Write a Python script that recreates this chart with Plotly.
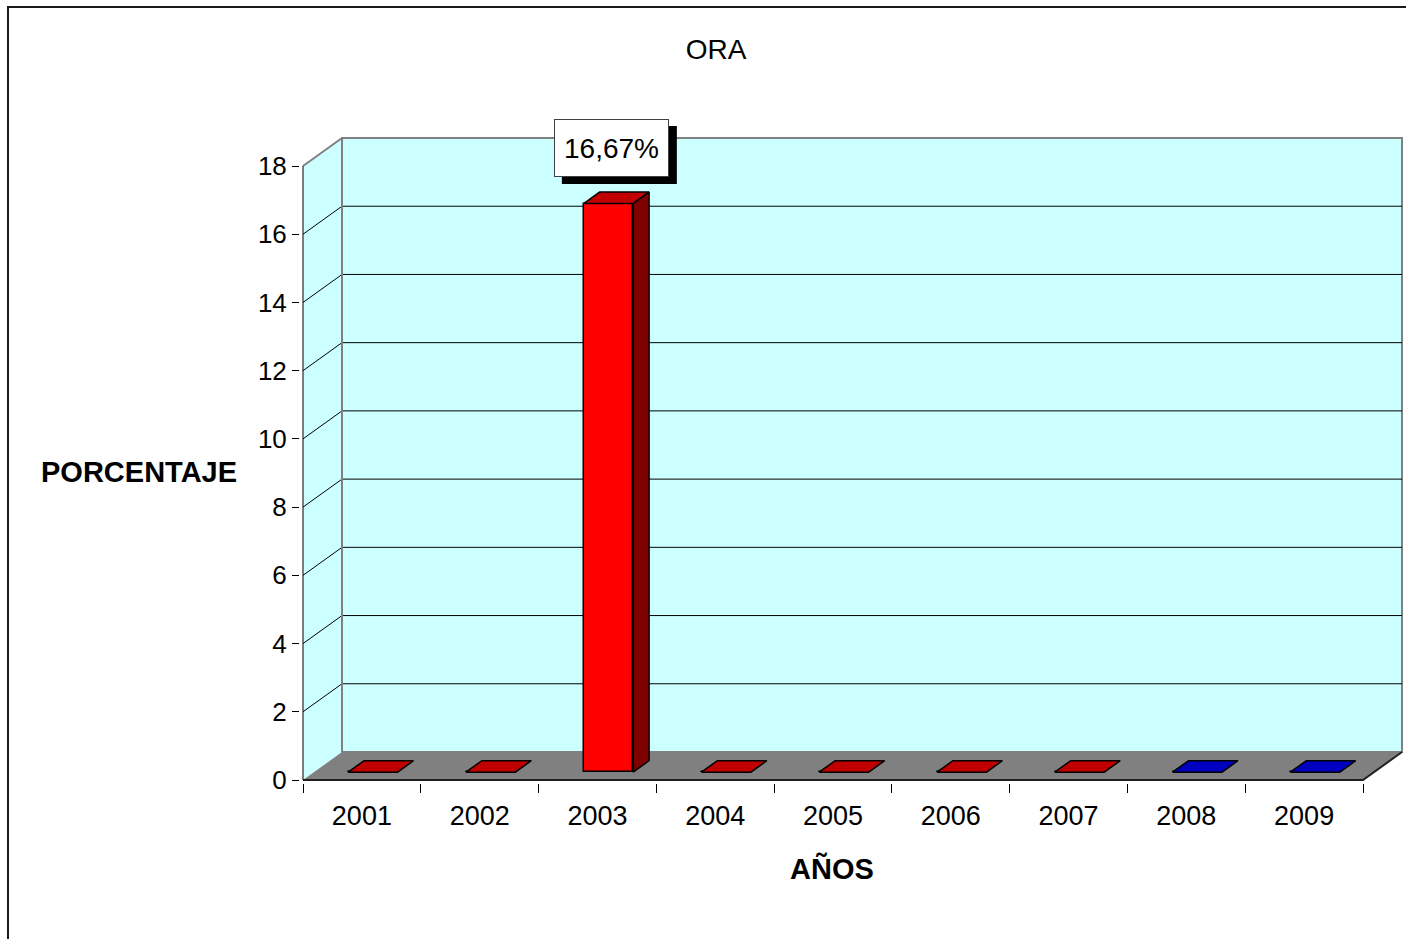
import plotly.graph_objects as go

# ---------------- data ----------------
years = ["2001", "2002", "2003", "2004", "2005", "2006", "2007", "2008", "2009"]
values = [0, 0, 16.67, 0, 0, 0, 0, 0, 0]
value_labels = ["", "", "16,67%", "", "", "", "", "", ""]
front_colors = ["#FF0000"] * 7 + ["#0000FF"] * 2
top_colors = ["#C00000"] * 7 + ["#0000C0"] * 2
side_colors = ["#800000"] * 7 + ["#000080"] * 2
y_ticks = [0, 2, 4, 6, 8, 10, 12, 14, 16, 18]
y_max = 18
title_text = "ORA"
x_title = "AÑOS"
y_title = "PORCENTAJE"

# ---------------- layout geometry (pixels) ----------------
W, H = 1406, 939
L, R, T, B = 300, 2, 135, 156
PLOT_W, PLOT_H = W - L - R, H - T - B
PX_FRONT_LEFT, PX_FRONT_RIGHT = 303, 1363
PX_Y0, PX_YMAX = 780, 166
DEPTH_PX_X, DEPTH_PX_Y = 39, 28
FONT = "Liberation Sans, Arial, sans-serif"

n = len(years)
ux = (PX_FRONT_RIGHT - PX_FRONT_LEFT) / n
uy = (PX_Y0 - PX_YMAX) / y_max
dx = DEPTH_PX_X / ux
dy = DEPTH_PX_Y / uy
x_lo = -0.5
x_hi = n - 0.5
xrange = [x_lo - (PX_FRONT_LEFT - L) / ux, x_lo + (W - R - PX_FRONT_LEFT) / ux]
yrange = [-(T + PLOT_H - PX_Y0) / uy, (PX_Y0 - T) / uy]

fd1, fd2 = 0.28, 0.69      # depth fractions of bar front/back
bw = 0.42                   # bar width (category units)
b1, b2 = fd1 * dy, fd2 * dy
sx = (fd2 - fd1) * dx


def px2paper_x(px):
    return (px - L) / PLOT_W


def px2paper_y(py):
    return (T + PLOT_H - py) / PLOT_H


fig = go.Figure()

# ---------------- walls / floor (frame) ----------------
shapes = []
shapes.append(dict(type="rect", xref="x", yref="y", layer="below",
                   x0=x_lo + dx, x1=x_hi + dx, y0=dy, y1=y_max + dy,
                   fillcolor="#CCFFFF", line=dict(color="#808080", width=2)))
shapes.append(dict(type="path", xref="x", yref="y", layer="below",
                   path=f"M {x_lo},0 L {x_lo+dx},{dy} L {x_lo+dx},{y_max+dy} L {x_lo},{y_max} Z",
                   fillcolor="#CCFFFF", line=dict(width=0)))
shapes.append(dict(type="path", xref="x", yref="y", layer="below",
                   path=f"M {x_lo},0 L {x_hi},0 L {x_hi+dx},{dy} L {x_lo+dx},{dy} Z",
                   fillcolor="#808080", line=dict(width=0)))
for v in y_ticks[1:-1]:
    shapes.append(dict(type="path", xref="x", yref="y", layer="below",
                       path=f"M {x_lo},{v} L {x_lo+dx},{v+dy} L {x_hi+dx},{v+dy}",
                       line=dict(color="#000000", width=1)))
shapes.append(dict(type="path", xref="x", yref="y", layer="below",
                   path=f"M {x_lo},{y_max} L {x_lo+dx},{y_max+dy}",
                   line=dict(color="#808080", width=2)))
shapes.append(dict(type="path", xref="x", yref="y", layer="below",
                   path=f"M {x_lo+dx},{dy} L {x_lo+dx},{y_max+dy}",
                   line=dict(color="#808080", width=2)))
shapes.append(dict(type="path", xref="x", yref="y", layer="below",
                   path=f"M {x_lo},0 L {x_hi},0 L {x_hi+dx},{dy}",
                   line=dict(color="#202020", width=2)))
shapes.append(dict(type="path", xref="x", yref="y", layer="below",
                   path=f"M {x_lo},0 L {x_lo},{y_max}",
                   line=dict(color="#000000", width=1)))

# outer chart border (left and top)
shapes.append(dict(type="line", xref="paper", yref="paper",
                   x0=px2paper_x(8), x1=px2paper_x(8), y0=px2paper_y(6), y1=px2paper_y(H + 5),
                   line=dict(color="#1a1a1a", width=2)))
shapes.append(dict(type="line", xref="paper", yref="paper",
                   x0=px2paper_x(7), x1=px2paper_x(W + 5), y0=px2paper_y(7), y1=px2paper_y(7),
                   line=dict(color="#1a1a1a", width=2)))

# ---------------- bars ----------------
bar_x = [i + fd1 * dx for i in range(n)]
fig.add_trace(go.Bar(
    x=bar_x, y=values, base=[b1] * n, width=bw,
    marker=dict(color=front_colors, line=dict(color="#000000", width=1.5)),
    hoverinfo="skip", showlegend=False,
))

for i, v in enumerate(values):
    x0 = bar_x[i] - bw / 2
    x1 = bar_x[i] + bw / 2
    fig.add_trace(go.Scatter(
        x=[x0, x1, x1 + sx, x0 + sx, x0],
        y=[v + b1, v + b1, v + b2, v + b2, v + b1],
        mode="lines", fill="toself", fillcolor=top_colors[i],
        line=dict(color="#000000", width=1.5),
        hoverinfo="skip", showlegend=False,
    ))
    if v > 0:
        fig.add_trace(go.Scatter(
            x=[x1, x1 + sx, x1 + sx, x1, x1],
            y=[b1, b2, v + b2, v + b1, b1],
            mode="lines", fill="toself", fillcolor=side_colors[i],
            line=dict(color="#000000", width=1.5),
            hoverinfo="skip", showlegend=False,
        ))

# ---------------- value label with shadow ----------------
annotations = []
for i, v in enumerate(values):
    if not value_labels[i]:
        continue
    anchor_y_paper = (v + b2 - yrange[0]) / (yrange[1] - yrange[0])
    shapes.append(dict(type="rect", xref="x", yref="paper", layer="above",
                       xsizemode="pixel", ysizemode="pixel",
                       xanchor=bar_x[i], yanchor=anchor_y_paper,
                       x0=-46.5, x1=68.5, y0=8, y1=66,
                       fillcolor="#000000", line=dict(width=0)))
    annotations.append(dict(
        x=bar_x[i], y=v + b2, xref="x", yref="y",
        text=value_labels[i], showarrow=False,
        xanchor="center", yanchor="middle", xshift=3, yshift=44,
        width=95, height=38, borderpad=9, borderwidth=1,
        bgcolor="#FFFFFF", bordercolor="#404040",
        font=dict(family=FONT, size=28, color="#000000"),
    ))

annotations.append(dict(
    x=px2paper_x(139), y=px2paper_y(472), xref="paper", yref="paper",
    text=f"<b>{y_title}</b>", showarrow=False, xanchor="center", yanchor="middle",
    font=dict(family=FONT, size=29, color="#000000"),
))
annotations.append(dict(
    x=px2paper_x(832), y=px2paper_y(868), xref="paper", yref="paper",
    text=f"<b>{x_title}</b>", showarrow=False, xanchor="center", yanchor="middle",
    font=dict(family=FONT, size=29, color="#000000"),
))

fig.update_layout(
    width=W, height=H,
    margin=dict(l=L, r=R, t=T, b=B, autoexpand=False),
    paper_bgcolor="#FFFFFF", plot_bgcolor="rgba(0,0,0,0)",
    title=dict(text=title_text, x=716 / W, xref="container", xanchor="center",
               y=1 - 49 / H, yref="container", yanchor="middle",
               font=dict(family=FONT, size=28, color="#000000")),
    font=dict(family=FONT, color="#000000"),
    shapes=shapes,
    annotations=annotations,
    showlegend=False,
    bargap=0,
)
fig.update_xaxes(
    range=xrange, tickmode="array", tickvals=list(range(n)), ticktext=years,
    ticks="", showgrid=False, zeroline=False, showline=False,
    tickfont=dict(size=27, color="#000000"), ticklabelstandoff=14,
    minor=dict(tickmode="array", tickvals=[x_lo + k for k in range(n + 1)],
               ticks="outside", ticklen=9, tickcolor="#000000", tickwidth=1, showgrid=False),
    fixedrange=True,
)
fig.update_yaxes(
    range=yrange, tickmode="array", tickvals=y_ticks, ticktext=[str(t) for t in y_ticks],
    ticks="outside", ticklen=7, tickcolor="#000000", tickwidth=1,
    showgrid=False, zeroline=False, showline=False,
    tickfont=dict(size=26, color="#000000"),
    fixedrange=True,
)

fig.write_html("out.html", config={"displayModeBar": False},
               post_script="document.body.style.margin='0';document.body.style.overflow='hidden';")
